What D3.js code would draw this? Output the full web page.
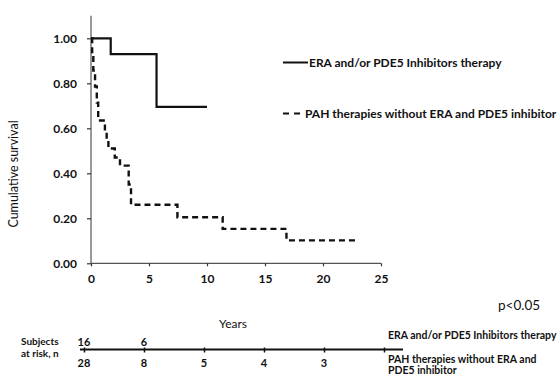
<!DOCTYPE html>
<html><head><meta charset="utf-8">
<script src="https://cdn.jsdelivr.net/npm/d3@7"></script>
<style>
body{margin:0;background:#fff;}
svg{display:block;font-family:Lato,"Open Sans",sans-serif;}
</style></head>
<body>
<svg id="c" width="558" height="377"></svg>
<script>
// ---- data ----
const seriesNames = ["ERA and/or PDE5 Inhibitors therapy", "PAH therapies without ERA and PDE5 inhibitor"];
const eraTimes = [0, 1.7, 5.65, 10.0];
const eraSurv  = [1.0, 0.93, 0.695, 0.695];
const pahTimes = [0, 0.1, 0.2, 0.35, 0.5, 0.62, 1.2, 1.35, 1.5, 2.05, 2.5, 3.25, 3.45, 7.45, 11.35, 16.85, 22.9];
const pahSurv  = [1.0, 0.929, 0.857, 0.786, 0.714, 0.635, 0.59, 0.55, 0.51, 0.47, 0.434, 0.35, 0.26, 0.205, 0.153, 0.102, 0.102];
const xTicks = [0, 5, 10, 15, 20, 25];
const yTicks = [0, 0.2, 0.4, 0.6, 0.8, 1.0];
const riskTimes = [0, 5, 10, 15, 20, 25];
const riskERA = ["16", "6", "", "", "", ""];
const riskPAH = ["28", "8", "5", "4", "3", ""];

const svg = d3.select("#c");
const x = d3.scaleLinear().domain([0, 25]).range([91, 381]);
const y = d3.scaleLinear().domain([0, 1.1]).range([263.3, 15.8]);

// axes
const yAxis = svg.append("g").attr("transform", "translate(91,0)")
  .call(d3.axisLeft(y).tickValues(yTicks).tickFormat(d3.format(".2f")).tickSize(4).tickPadding(10));
yAxis.select(".domain").attr("d", `M0,${y(1.1)}V${y(0)}`);
const xAxis = svg.append("g").attr("transform", `translate(0,${y(0)})`)
  .call(d3.axisBottom(x).tickValues(xTicks).tickSize(3).tickPadding(8));
xAxis.select(".domain").attr("d", `M${x(0)},0H${x(25)}`);
[yAxis, xAxis].forEach(a => {
  a.selectAll(".domain").attr("stroke", "#555").attr("stroke-width", 1.2);
  a.selectAll(".tick line").attr("stroke", "#333").attr("stroke-width", 1.2);
  a.selectAll("text").attr("font-size", 12).attr("font-weight", "bold").attr("fill", "#111")
   .attr("font-family", "Lato, sans-serif");
});

// curves
const line = d3.line().x(d => x(d[0])).y(d => y(d[1])).curve(d3.curveStepAfter);
svg.append("path").datum(eraTimes.map((t, i) => [t, eraSurv[i]]))
  .attr("d", line).attr("fill", "none").attr("stroke", "#111").attr("stroke-width", 2.2);
svg.append("path").datum(pahTimes.map((t, i) => [t, pahSurv[i]]))
  .attr("d", line).attr("fill", "none").attr("stroke", "#111").attr("stroke-width", 2.4)
  .attr("stroke-dasharray", "6,4");

// y label
svg.append("text").attr("transform", "translate(18,174) rotate(-90)")
  .attr("text-anchor", "middle").attr("font-size", 12.5).attr("fill", "#111")
  .text("Cumulative survival");

// legend
svg.append("line").attr("x1", 283).attr("x2", 308).attr("y1", 62.5).attr("y2", 62.5)
  .attr("stroke", "#111").attr("stroke-width", 2);
svg.append("text").attr("x", 309).attr("y", 66.5).attr("font-size", 12).attr("font-weight", "bold").attr("fill", "#111")
  .text(seriesNames[0]);
svg.append("line").attr("x1", 283).attr("x2", 301).attr("y1", 113.5).attr("y2", 113.5)
  .attr("stroke", "#111").attr("stroke-width", 2.2).attr("stroke-dasharray", "6,5");
svg.append("text").attr("x", 305).attr("y", 117.5).attr("font-size", 12).attr("font-weight", "bold").attr("fill", "#111")
  .text(seriesNames[1]);

// p value and x title
svg.append("text").attr("x", 498).attr("y", 310).attr("font-size", 13.5).attr("fill", "#111").text("p<0.05");
svg.append("text").attr("x", 233).attr("y", 328).attr("text-anchor", "middle").attr("font-size", 12).attr("fill", "#111").text("Years");

// risk table
const xr = d3.scaleLinear().domain([0, 25]).range([84, 384]);
svg.append("text").attr("x", 21).attr("y", 345).attr("font-size", 10).attr("font-weight", "bold").attr("fill", "#111").text("Subjects");
svg.append("text").attr("x", 21).attr("y", 357).attr("font-size", 10).attr("font-weight", "bold").attr("fill", "#111").text("at risk, n");
const rAxis = svg.append("g").attr("transform", "translate(0,349.5)")
  .call(d3.axisBottom(xr).tickValues(riskTimes).tickSize(3).tickFormat(""));
rAxis.select(".domain").attr("d", "M80,0H403").attr("stroke", "#111").attr("stroke-width", 2.2);
rAxis.selectAll(".tick line").attr("stroke", "#111").attr("stroke-width", 1.5).attr("y1", -2);
svg.append("g").selectAll("text").data(riskTimes).join("text")
  .attr("x", d => xr(d)).attr("y", 345.5).attr("text-anchor", "middle")
  .attr("font-size", 11).attr("font-weight", "bold").attr("fill", "#111")
  .text((d, i) => riskERA[i]);
svg.append("g").selectAll("text").data(riskTimes).join("text")
  .attr("x", d => xr(d)).attr("y", 367).attr("text-anchor", "middle")
  .attr("font-size", 11).attr("font-weight", "bold").attr("fill", "#111")
  .text((d, i) => riskPAH[i]);
svg.append("text").attr("x", 388).attr("y", 338.5).attr("font-size", 10.5).attr("font-weight", "bold").attr("fill", "#111")
  .text("ERA and/or PDE5 Inhibitors therapy");
svg.append("text").attr("x", 388).attr("y", 362.5).attr("font-size", 10.5).attr("font-weight", "bold").attr("fill", "#111")
  .text("PAH therapies without ERA and");
svg.append("text").attr("x", 388).attr("y", 374).attr("font-size", 10.5).attr("font-weight", "bold").attr("fill", "#111")
  .text("PDE5 inhibitor");
</script>
</body></html>
